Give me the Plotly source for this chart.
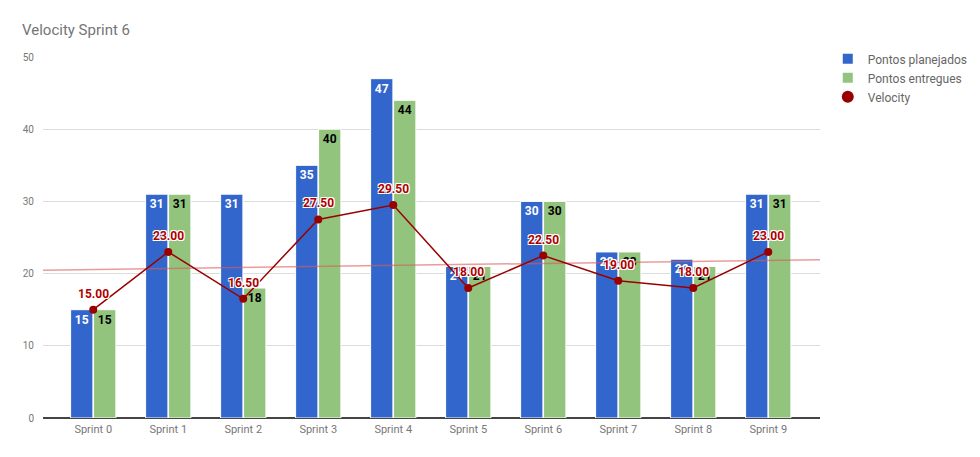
import numpy as np
import plotly.graph_objects as go

# chart data
sprints = ["Sprint 0", "Sprint 1", "Sprint 2", "Sprint 3", "Sprint 4",
           "Sprint 5", "Sprint 6", "Sprint 7", "Sprint 8", "Sprint 9"]
planejados = [15, 31, 31, 35, 47, 21, 30, 23, 22, 31]
entregues = [15, 31, 18, 40, 44, 21, 30, 23, 21, 31]
velocity = [15.00, 23.00, 16.50, 27.50, 29.50, 18.00, 22.50, 19.00, 18.00, 23.00]

x = np.arange(len(sprints))
x_range = [-0.67, 9.69]

# linear trend of velocity
slope, intercept = np.polyfit(x, velocity, 1)
trend_x = np.array(x_range)
trend_y = slope * trend_x + intercept

DARK_RED = "#990000"

fig = go.Figure()

fig.add_trace(go.Bar(
    x=x, y=planejados, name="Pontos planejados",
    marker=dict(color="#3366cc", line=dict(color="white", width=1)),
    text=planejados, textposition="inside", insidetextanchor="end",
    textangle=0, constraintext="none",
    textfont=dict(color="white", size=12, family="Roboto", weight="bold"),
))
fig.add_trace(go.Bar(
    x=x, y=entregues, name="Pontos entregues",
    marker=dict(color="#93c47d", line=dict(color="white", width=1)),
    text=entregues, textposition="inside", insidetextanchor="end",
    textangle=0, constraintext="none",
    textfont=dict(color="black", size=12, family="Roboto", weight="bold"),
))
fig.add_trace(go.Scatter(
    x=trend_x, y=trend_y, mode="lines", showlegend=False, hoverinfo="skip",
    line=dict(color="rgba(220,90,90,0.6)", width=1.5),
))
fig.add_trace(go.Scatter(
    x=x, y=velocity, name="Velocity", mode="lines+markers", showlegend=False,
    line=dict(color=DARK_RED, width=1.5),
    marker=dict(color=DARK_RED, size=8),
))
# legend entry with a dot only
fig.add_trace(go.Scatter(
    x=[None], y=[None], name="Velocity", mode="markers",
    marker=dict(color=DARK_RED, size=10),
))

shadow = "1px 1px 0 white, -1px -1px 0 white, 1px -1px 0 white, -1px 1px 0 white"
for xi, v in zip(x, velocity):
    fig.add_annotation(
        x=xi, y=v, text=f"{v:.2f}", showarrow=False, yshift=16,
        font=dict(color="#b00000", size=12, family="Roboto", weight="bold",
                  shadow=shadow),
    )

fig.update_layout(
    width=980, height=457,
    paper_bgcolor="white", plot_bgcolor="white",
    font=dict(family="Roboto", color="#444"),
    title=dict(text="Velocity Sprint 6", x=14 / 980, y=1 - 22 / 457,
               xanchor="left", yanchor="middle",
               font=dict(size=15, color="#757575", family="Roboto")),
    margin=dict(l=35, r=168, t=49, b=47),
    barmode="group", bargap=0.387, bargroupgap=0.03,
    legend=dict(x=1.01, y=1.035, xanchor="left", yanchor="top",
                font=dict(size=12, color="#666"), itemsizing="constant",
                tracegroupgap=0, itemwidth=30),
    xaxis=dict(range=x_range, tickvals=x, ticktext=sprints,
               showgrid=False, zeroline=False, showline=False,
               tickfont=dict(size=11, color="#777"), ticks="",
               ticklabelstandoff=3),
    yaxis=dict(range=[0, 50], dtick=10, showgrid=True, gridcolor="#dcdcdc",
               zeroline=True, zerolinecolor="#444", zerolinewidth=1.5,
               tickfont=dict(size=10, color="#777"), ticks="", ticklabelstandoff=8),
    showlegend=True,
)

fig.write_html("out.html")
